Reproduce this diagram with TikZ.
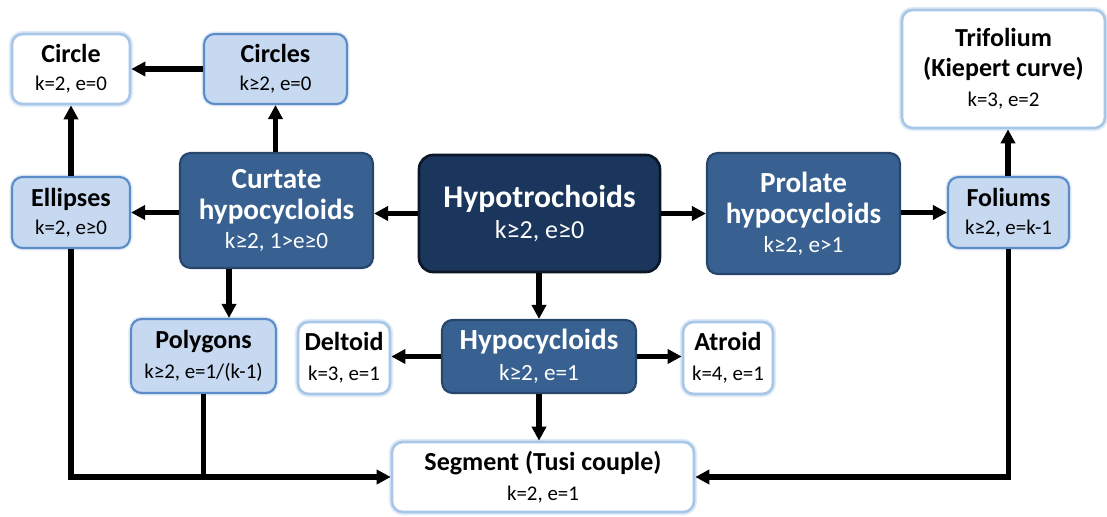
\documentclass[tikz,border=0pt]{standalone}
\usepackage{fontspec}
\setmainfont{Carlito}
\usepackage{xcolor}
\usetikzlibrary{positioning,arrows.meta}

\definecolor{lightfill}{HTML}{C6D9F1}
\definecolor{lightdraw}{HTML}{5B8CC8}
\definecolor{whitedraw}{HTML}{A7C6E8}
\definecolor{midfill}{HTML}{386192}
\definecolor{middraw}{HTML}{26466C}
\definecolor{darkfill}{HTML}{1B365C}
\definecolor{darkdraw}{HTML}{0B1626}

\newcommand{\ttl}{\fontsize{14.8}{17.5}\bfseries\selectfont}
\newcommand{\ttlmid}{\fontsize{16.6}{17.5}\bfseries\selectfont}
\newcommand{\ttlbig}{\fontsize{18}{18}\bfseries\selectfont}
\newcommand{\sbt}{\fontsize{11.9}{17}\selectfont}
\newcommand{\sbtmid}{\fontsize{13.2}{17.5}\selectfont}
\newcommand{\sbtbig}{\fontsize{14.8}{18}\selectfont}

\tikzset{
  curvebox/.style={rounded corners=6pt, align=center, inner sep=2pt, font=\sbt},
  whitebox/.style={curvebox, fill=white, draw=whitedraw, line width=1.5pt, text=black,
    preaction={draw=whitedraw!35, line width=3.5pt}},
  lightbox/.style={curvebox, fill=lightfill, draw=lightdraw, line width=1.2pt, text=black,
    preaction={draw=whitedraw!30, line width=3pt}},
  midbox/.style={curvebox, fill=midfill, draw=middraw, line width=1.2pt, text=white},
  darkbox/.style={curvebox, rounded corners=8pt, fill=darkfill, draw=darkdraw, line width=1.5pt, text=white},
  arr/.style={line width=3pt, -{Triangle[length=8pt,width=8pt]}},
  link/.style={line width=3pt}
}

\begin{document}
\begin{tikzpicture}[x=0.02cm, y=-0.02cm]
    \useasboundingbox (0,0) rectangle (1107,517);

    % Nodes
    \node[whitebox, minimum width=2.36cm, minimum height=1.40cm] (circle) at (71,69) {{\ttl Circle}\\[-1pt]k=2, e=0};
    \node[lightbox, minimum width=2.86cm, minimum height=1.40cm] (circles) at (275.5,69) {{\ttl Circles}\\[-1pt]k≥2, e=0};
    \node[lightbox, minimum width=2.36cm, minimum height=1.42cm] (ellipses) at (71,212.5) {{\ttl Ellipses}\\[-1pt]k=2, e≥0};
    \node[midbox, minimum width=3.86cm, minimum height=2.30cm, font=\sbtmid] (curtate) at (276.5,210.5) {{\ttlmid Curtate}\\{\ttlmid hypocycloids}\\[-1pt]k≥2, 1>e≥0};
    \node[darkbox, minimum width=4.82cm, minimum height=2.34cm, font=\sbtbig] (hypotro) at (539.5,213.5) {{\ttlbig Hypotrochoids}\\k≥2, e≥0};
    \node[midbox, minimum width=3.86cm, minimum height=2.42cm, font=\sbtmid] (prolate) at (803.5,213.5) {{\ttlmid Prolate}\\{\ttlmid hypocycloids}\\[-1pt]k≥2, e>1};
    \node[lightbox, minimum width=2.42cm, minimum height=1.42cm] (foliums) at (1008.5,212.5) {{\ttl Foliums}\\[-1pt]k≥2, e=k-1};
    \node[whitebox, minimum width=4.06cm, minimum height=2.36cm] (trifolium) at (1003.5,69) {{\ttl Trifolium}\\{\ttl (Kiepert curve)}\\k=3, e=2};
    \node[lightbox, minimum width=2.90cm, minimum height=1.48cm] (polygons) at (203.5,356) {{\ttl Polygons}\\k≥2, e=1/(k-1)};
    \node[whitebox, minimum width=1.84cm, minimum height=1.44cm] (deltoid) at (344,358) {{\ttl Deltoid}\\k=3, e=1};
    \node[midbox, minimum width=3.88cm, minimum height=1.46cm, font=\sbtmid] (hypocyc) at (539,356.5) {{\ttlmid Hypocycloids}\\k≥2, e=1};
    \node[whitebox, minimum width=1.80cm, minimum height=1.44cm] (atroid) at (728,358) {{\ttl Atroid}\\k=4, e=1};
    \node[whitebox, minimum width=6.04cm, minimum height=1.40cm] (segment) at (543,477) {{\ttl Segment (Tusi couple)}\\k=2, e=1};

    % Arrows
    \draw[arr] (circles.west |- circle.east) -- (circle.east);
    \draw[arr] (ellipses) -- (circle);
    \draw[arr] (curtate.north -| circles.south) -- (circles.south);
    \draw[arr] (curtate.west |- ellipses.east) -- (ellipses.east);
    \draw[arr] (hypotro.west) -- (hypotro.west -| curtate.east);
    \draw[arr] (hypotro.east) -- (hypotro.east -| prolate.west);
    \draw[arr] (prolate.east |- foliums.west) -- (foliums.west);
    \draw[arr] (foliums.north -| 1008,0) -- (trifolium.south -| 1008,0);
    \draw[arr] (curtate.south -| 229,0) -- (polygons.north -| 229,0);
    \draw[arr] (hypotro.south -| hypocyc.north) -- (hypocyc.north);
    \draw[arr] (hypocyc.west) -- (hypocyc.west -| deltoid.east);
    \draw[arr] (hypocyc.east) -- (hypocyc.east -| atroid.west);
    \draw[arr] (hypocyc.south) -- (hypocyc.south |- segment.north);

    % Lines into the segment
    \draw[arr] (ellipses.south) |- (segment.west);
    \draw[link] (polygons.south) -- (polygons.south |- segment.west);
    \draw[arr] (foliums.south) |- (segment.east);
\end{tikzpicture}
\end{document}
